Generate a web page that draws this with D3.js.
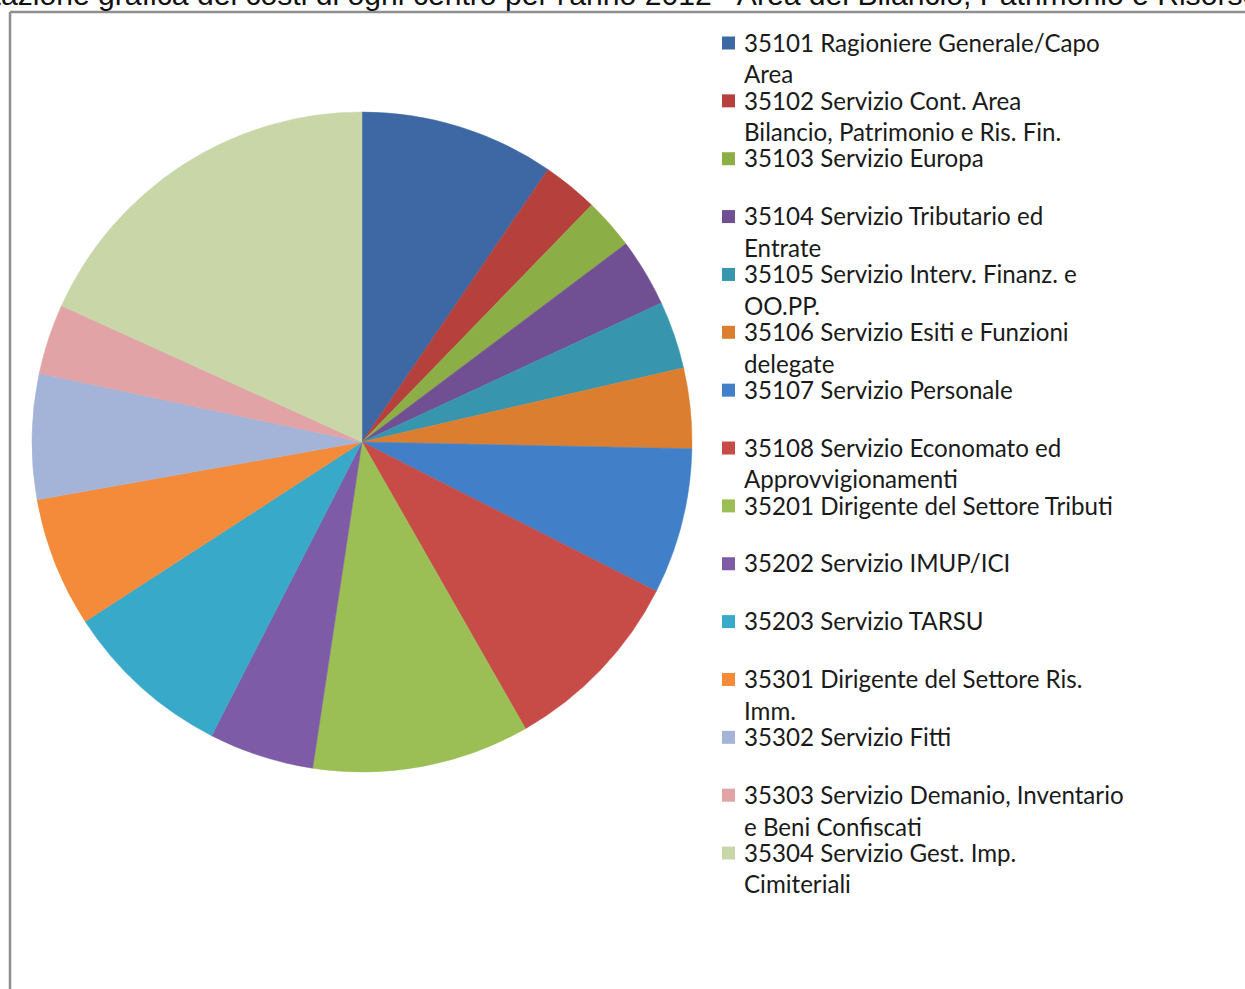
<!DOCTYPE html>
<html><head><meta charset="utf-8">
<script src="https://cdn.jsdelivr.net/npm/d3@7"></script>
<style>
html,body{margin:0;padding:0;background:#fff;overflow:hidden;}
svg{display:block;}
</style></head>
<body>
<svg id="chart" width="1245" height="989"></svg>
<script>
const title = "Rappresentazione grafica dei costi di ogni centro per l'anno 2012 - Area del Bilancio, Patrimonio e Risorse Finanziarie";
const titleHiddenPrefix = "Rappresent";
const titleVisibleEnd = "Rappresentazione grafica dei costi di ogni centro per l'anno 2012 - Area del Bilancio, Patrimonio e Risors";
const categories = [
  "35101 Ragioniere Generale/Capo\nArea",
  "35102 Servizio Cont. Area\nBilancio, Patrimonio e Ris. Fin.",
  "35103 Servizio Europa",
  "35104 Servizio Tributario ed\nEntrate",
  "35105 Servizio Interv. Finanz. e\nOO.PP.",
  "35106 Servizio Esiti e Funzioni\ndelegate",
  "35107 Servizio Personale",
  "35108 Servizio Economato ed\nApprovvigionamenti",
  "35201 Dirigente del Settore Tributi",
  "35202 Servizio IMUP/ICI",
  "35203 Servizio TARSU",
  "35301 Dirigente del Settore Ris.\nImm.",
  "35302 Servizio Fitti",
  "35303 Servizio Demanio, Inventario\ne Beni Confiscati",
  "35304 Servizio Gest. Imp.\nCimiteriali"
];
const values = [9.53, 2.72, 2.50, 3.33, 3.31, 3.94, 7.14, 9.28, 10.64, 5.14, 8.31, 6.36, 6.14, 3.44, 18.22];
const colors = ["#3D68A3","#B5403C","#8CAE47","#704F93","#3796AE","#DC7E2F","#4180C8","#C74C48",
                "#9BBF54","#7E5BA6","#38A9C9","#F48B3B","#A4B4D8","#E1A3A5","#C8D6A8"];

const svg = d3.select("#chart");

// frame
svg.append("line").attr("x1",10).attr("x2",1245).attr("y1",12).attr("y2",12)
  .attr("stroke","#8f8f8f").attr("stroke-width",2.5);
svg.append("line").attr("x1",10).attr("x2",10).attr("y1",12).attr("y2",989)
  .attr("stroke","#8f8f8f").attr("stroke-width",2.5);

// title (partly outside the visible area, like the reference)
const tFont = "'Liberation Sans', Arial, sans-serif";
function measure(str, size, font){
  const p = svg.append("text").attr("font-family",font).attr("font-size",size).text(str);
  const w = p.node().getComputedTextLength(); p.remove(); return w;
}
const base = 20;
const wPre = measure(titleHiddenPrefix, base, tFont);
const wEnd = measure(titleVisibleEnd, base, tFont);
const tSize = base * 1242 / (wEnd - wPre);
svg.append("text").attr("y",5)
  .attr("font-family",tFont).attr("font-size",tSize).attr("fill","#111")
  .attr("x", 1 - wPre * tSize / base).text(title);

// pie
const cx = 362, cy = 442, R = 330;
const pie = d3.pie().sort(null).value(d => d).startAngle(0).endAngle(2*Math.PI);
const arc = d3.arc().innerRadius(0).outerRadius(R);
const color = d3.scaleOrdinal().domain(d3.range(categories.length)).range(colors);
const g = svg.append("g").attr("transform",`translate(${cx},${cy})`);
g.selectAll("path").data(pie(values)).join("path")
  .attr("d", arc).attr("fill", (d,i) => color(i))
  .attr("stroke", (d,i) => color(i)).attr("stroke-width",0.5);

// legend
const legFont = "Lato, 'Open Sans', sans-serif";
const y0 = 43, step = 57.86, lineH = 31.7;
const w20 = measure(categories[0].split("\n")[0], 20, legFont);
const legSize = 20 * 356 / w20;
const leg = svg.append("g");
categories.forEach((c,i) => {
  const yc = y0 + i*step;
  leg.append("rect").attr("x",722).attr("y",yc-6.5).attr("width",13).attr("height",13).attr("fill",color(i));
  const t = leg.append("text").attr("x",744).attr("font-family",legFont)
    .attr("font-size",legSize).attr("fill","#1a1a1a");
  c.split("\n").forEach((ln,k) => {
    t.append("tspan").attr("x",744).attr("y", yc + k*lineH + legSize*0.36).text(ln);
  });
});
</script>
</body></html>
